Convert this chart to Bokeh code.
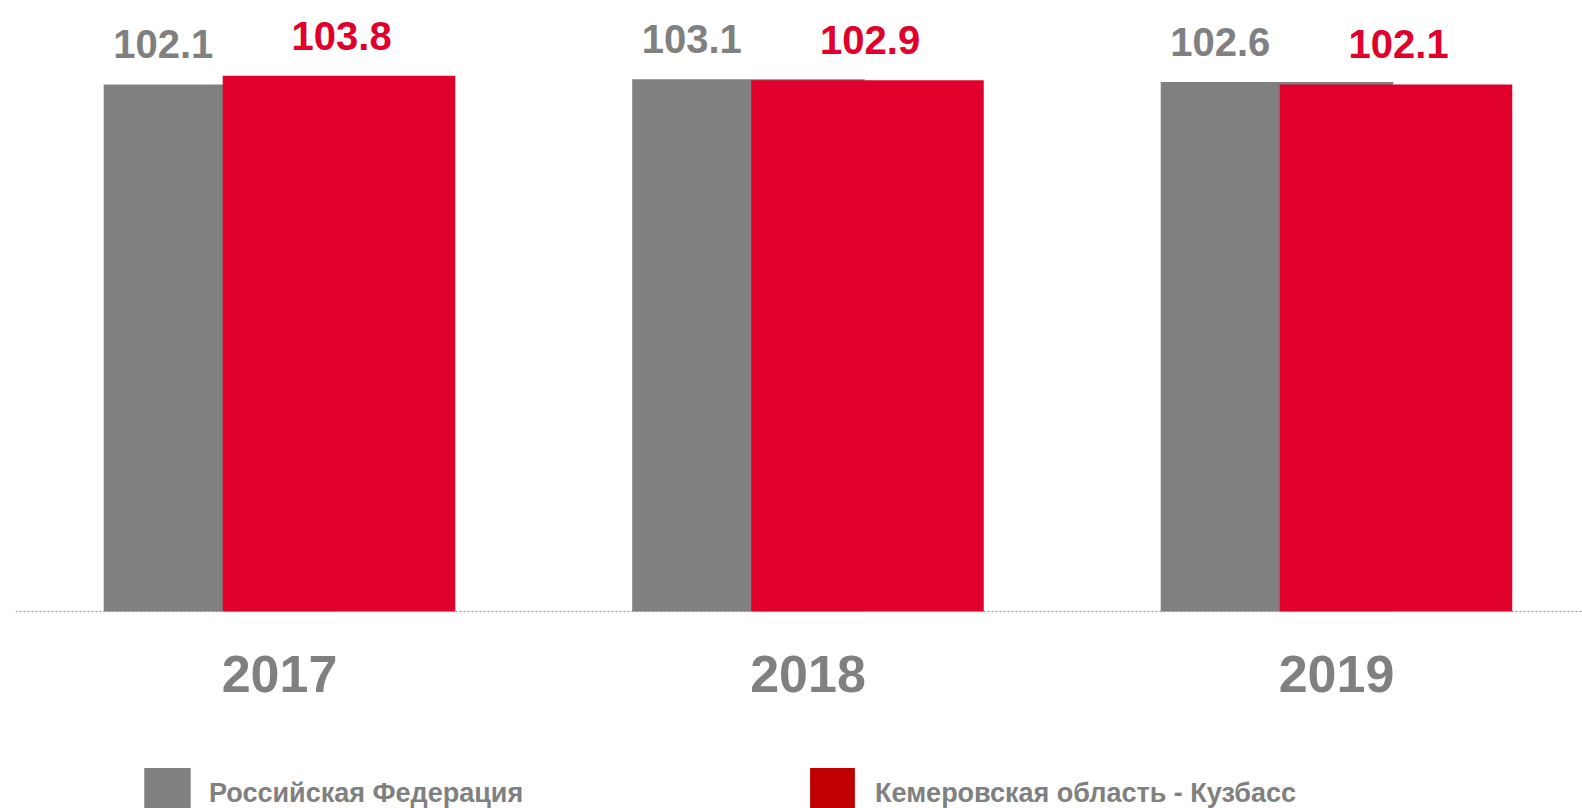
from bokeh.plotting import figure
from bokeh.models import Range1d, Legend, LegendItem, ColumnDataSource, Span
from bokeh.core.properties import value
from bokeh.embed import file_html
from bokeh.resources import INLINE

years = ["2017", "2018", "2019"]
russia = [102.1, 103.1, 102.6]
kuzbass = [103.8, 102.9, 102.1]
series_names = ["Российская Федерация", "Кемеровская область - Кузбасс"]

GRAY = "#808080"
RED = "#E0002B"
LEG_RED = "#C00000"
FONT = "Liberation Sans"

x = list(range(len(years)))
off = 0.1126
bw = 0.44

p = figure(width=1582, height=808, output_backend="svg", toolbar_location=None,
           x_range=Range1d(-0.4995, 2.4655), y_range=Range1d(-38.16, 118.37),
           min_border_left=15, min_border_right=0, min_border_top=0, min_border_bottom=0)
p.outline_line_color = None
p.xgrid.visible = False
p.ygrid.visible = False
p.xaxis.visible = False
p.yaxis.visible = False

src_g = ColumnDataSource(dict(x=[i - off for i in x], top=russia,
                              lx=[i - 0.22 for i in x], lab=[f"{v:.1f}" for v in russia]))
src_r = ColumnDataSource(dict(x=[i + off for i in x], top=kuzbass,
                              lx=[i + off + 0.005 for i in x], lab=[f"{v:.1f}" for v in kuzbass]))
src_y = ColumnDataSource(dict(x=x, y=[0] * len(x), lab=years))

bars_g = p.vbar(x="x", top="top", width=bw, bottom=0, source=src_g, fill_color=GRAY, line_color=None)
p.vbar(x="x", top="top", width=bw, bottom=0, source=src_r, fill_color=RED, line_color=None)

p.add_layout(Span(location=0, dimension="width", line_color="#8a8a8a",
                  line_dash="2 2", line_width=1))

p.text(x="lx", y="top", text="lab", source=src_g, text_align="center", text_baseline="alphabetic",
       y_offset=-40, text_font=value(FONT), text_font_style="bold", text_font_size="40px",
       text_color=GRAY)
p.text(x="lx", y="top", text="lab", source=src_r, text_align="center", text_baseline="alphabetic",
       y_offset=-40, text_font=value(FONT), text_font_style="bold", text_font_size="40px",
       text_color=RED)
p.text(x="x", y="y", text="lab", source=src_y, text_align="center", text_baseline="alphabetic",
       y_offset=62, text_font=value(FONT), text_font_style="bold", text_font_size="52px",
       text_color=GRAY)

# legend proxy for the darker red swatch: zero-width bars, invisible in the plot
leg_r = p.vbar(x="x", top="top", width=0, bottom=0, source=src_r, fill_color=LEG_RED,
               line_color=None)

def make_legend(name, rend, loc, gw, standoff):
    lg = Legend(items=[LegendItem(label=name, renderers=[rend])], location=loc,
                glyph_width=gw, glyph_height=65, label_standoff=standoff, padding=0, margin=0,
                border_line_color=None, background_fill_alpha=0,
                label_text_font=FONT, label_text_font_style="bold",
                label_text_font_size="27px", label_text_color=GRAY,
                label_text_baseline="middle")
    p.add_layout(lg, "center")

make_legend(series_names[0], bars_g, (123, -18), 58, 13)
make_legend(series_names[1], leg_r, (789, -18), 56, 15)

open("out.html", "w").write(file_html(p, INLINE))
